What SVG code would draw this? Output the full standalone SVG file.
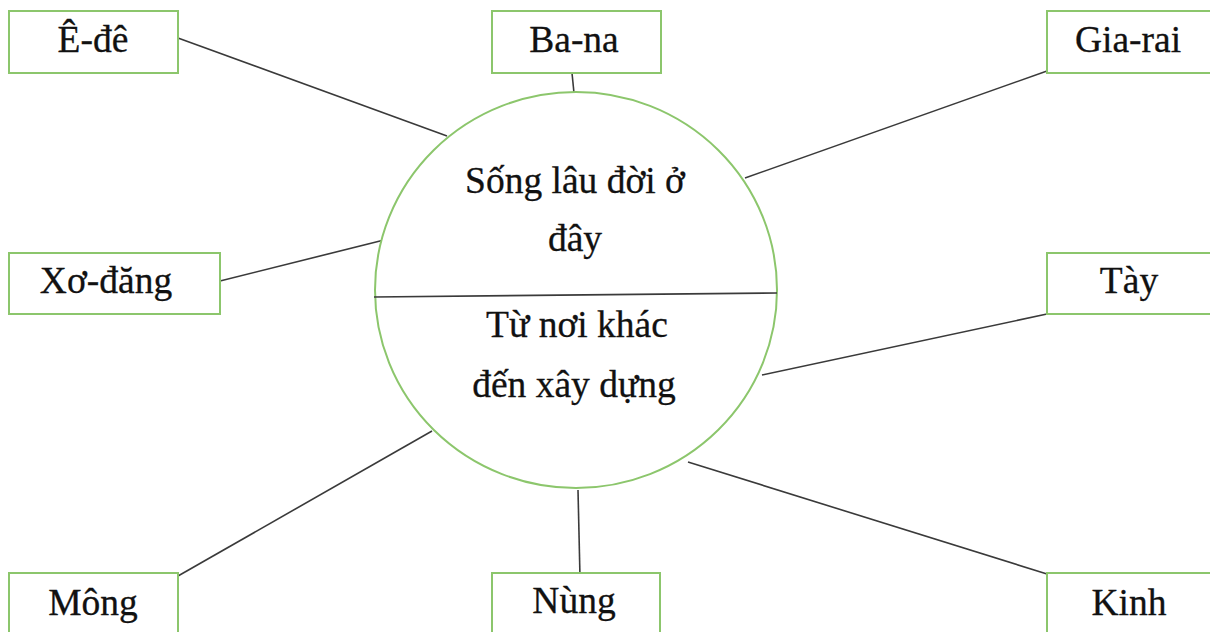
<svg xmlns="http://www.w3.org/2000/svg" width="1210" height="632" viewBox="0 0 1210 632">
<style>
.box{fill:#fff;stroke:#8cc66c;stroke-width:2}
.lbl{font-family:"Liberation Serif","Times New Roman",serif;font-size:37.5px;fill:#111;stroke:#111;stroke-width:0.3;text-anchor:middle}
.ln{stroke:#3a3a3a;stroke-width:1.6;fill:none}
</style>
<rect width="1210" height="632" fill="#fff"/>
<g id="connectors">
<line class="ln" x1="178" y1="38" x2="447" y2="136"/>
<line class="ln" x1="572" y1="73" x2="574" y2="93"/>
<line class="ln" x1="1047" y1="71" x2="745" y2="178"/>
<line class="ln" x1="220" y1="281" x2="384" y2="240"/>
<line class="ln" x1="1047" y1="314" x2="762" y2="375"/>
<line class="ln" x1="178" y1="576" x2="432" y2="431"/>
<line class="ln" x1="578" y1="490" x2="580" y2="577"/>
<line class="ln" x1="1047" y1="574" x2="688" y2="462"/>
</g>
<g id="center">
<ellipse cx="576" cy="290" rx="201" ry="198" fill="#fff" stroke="#8cc66c" stroke-width="2"/>
<line class="ln" x1="374" y1="297" x2="777" y2="293"/>
<text class="lbl" x="575" y="193">Sống lâu đời ở</text>
<text class="lbl" x="575" y="251">đây</text>
<text class="lbl" x="577" y="337">Từ nơi khác</text>
<text class="lbl" x="574" y="397">đến xây dựng</text>
</g>
<g id="ede"><rect class="box" x="9" y="11" width="169" height="62"/><text class="lbl" x="93" y="52">Ê-đê</text></g>
<g id="bana"><rect class="box" x="492" y="11" width="169" height="62"/><text class="lbl" x="574" y="52">Ba-na</text></g>
<g id="giarai"><rect class="box" x="1047" y="11" width="175" height="62"/><text class="lbl" x="1128" y="52">Gia-rai</text></g>
<g id="xodang"><rect class="box" x="9" y="253" width="211" height="61"/><text class="lbl" x="106" y="293">Xơ-đăng</text></g>
<g id="tay"><rect class="box" x="1047" y="253" width="175" height="61"/><text class="lbl" x="1129" y="293">Tày</text></g>
<g id="mong"><rect class="box" x="9" y="573" width="169" height="70"/><text class="lbl" x="93" y="615">Mông</text></g>
<g id="nung"><rect class="box" x="492" y="573" width="168" height="70"/><text class="lbl" x="574" y="613">Nùng</text></g>
<g id="kinh"><rect class="box" x="1047" y="573" width="175" height="70"/><text class="lbl" x="1129" y="615">Kinh</text></g>
</svg>
